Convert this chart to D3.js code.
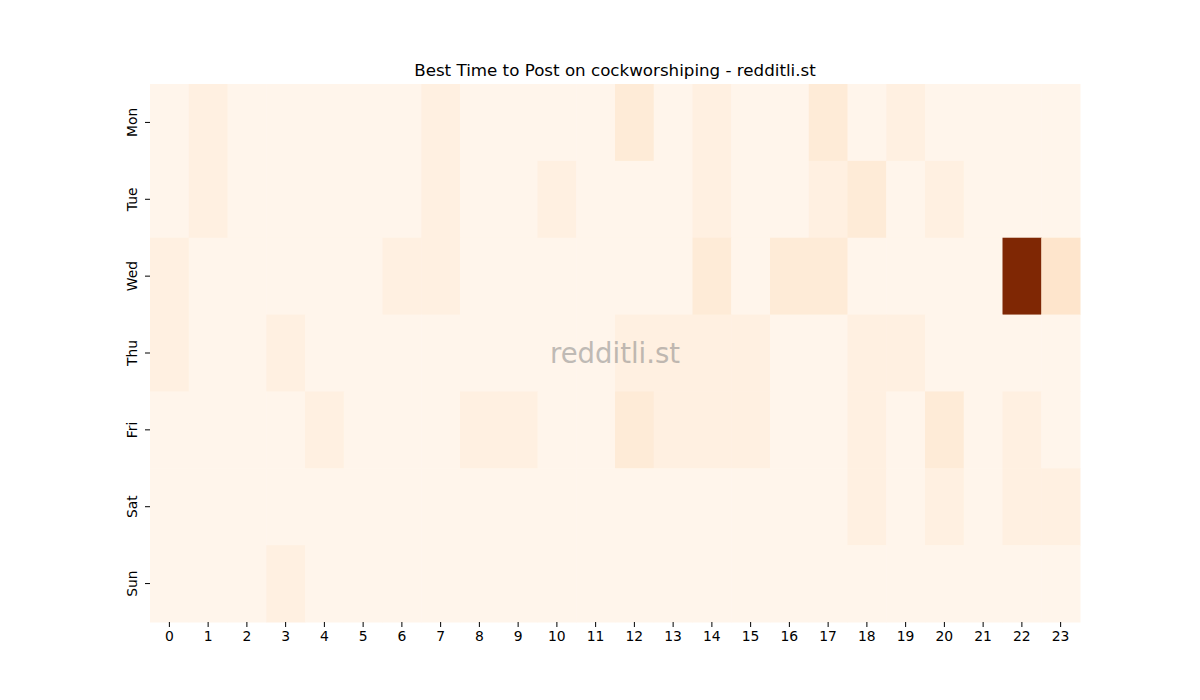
<!DOCTYPE html>
<html>
<head>
<meta charset="utf-8">
<script src="https://cdn.jsdelivr.net/npm/d3@7"></script>
<style>
	body { margin: 0; background: #fff; }
	svg text { font-family: "DejaVu Sans", sans-serif; fill: #000; }
</style>
</head>
<body>
<div id="chart"></div>
<script>
var days = ['Mon', 'Tue', 'Wed', 'Thu', 'Fri', 'Sat', 'Sun'];
var hours = d3.range(24).map(String);

// posts per day/hour
var mon = [0,1,0,0,0,0,0,1,0,0,0,0,2,0,1,0,0,2,0,1,0,0,0,0];
var tue = [0,1,0,0,0,0,0,1,0,0,1,0,0,0,1,0,0,1,2,0,1,0,0,0];
var wed = [1,0,0,0,0,0,1,1,0,0,0,0,0,0,2,0,2,2,0,0,0,0,24,3];
var thu = [1,0,0,1,0,0,0,0,0,0,0,0,1,1,1,1,0,0,1,1,0,0,0,0];
var fri = [0,0,0,0,1,0,0,0,1,1,0,0,2,1,1,1,0,0,1,0,2,0,1,0];
var sat = [0,0,0,0,0,0,0,0,0,0,0,0,0,0,0,0,0,0,1,0,1,0,1,1];
var sun = [0,0,0,1,0,0,0,0,0,0,0,0,0,0,0,0,0,0,0,0,0,0,0,0];
var rows = [mon, tue, wed, thu, fri, sat, sun];

(function() {
	var width = 1200,
		height = 700,
		left = 150,
		right = 1080,
		top = 84,
		bottom = 622;

	var cells = [];
	rows.forEach(function(r, i) {
		r.forEach(function(v, j) {
			cells.push({day: days[i], hour: hours[j], value: v});
		});
	});

	var x = d3.scaleBand().domain(hours).range([left, right]);
	var y = d3.scaleBand().domain(days).range([top, bottom]);
	var color = d3.scaleSequential(d3.interpolateOranges)
		.domain([0, d3.max(cells, function(d) { return d.value; })]);

	var svg = d3.select('#chart')
		.append('svg')
		.attr('width', width)
		.attr('height', height);

	svg.append('g')
		.selectAll('rect')
		.data(cells)
		.enter()
		.append('rect')
		.attr('x', function(d) { return x(d.hour); })
		.attr('y', function(d) { return y(d.day); })
		.attr('width', x.bandwidth() + 0.5)
		.attr('height', y.bandwidth() + 0.5)
		.attr('fill', function(d) { return color(d.value); });

	var xAxis = svg.append('g')
		.attr('transform', 'translate(0,' + bottom + ')')
		.call(d3.axisBottom(x).tickSize(5).tickPadding(4));

	var yAxis = svg.append('g')
		.attr('transform', 'translate(' + left + ',0)')
		.call(d3.axisLeft(y).tickSize(5).tickPadding(4));

	[xAxis, yAxis].forEach(function(a) {
		a.select('.domain').remove();
		a.selectAll('line').attr('stroke', '#000').attr('stroke-width', 1);
		a.selectAll('text').style('font-size', '13.9px').style('font-family', '"DejaVu Sans", sans-serif');
	});

	yAxis.selectAll('text')
		.attr('x', null)
		.attr('dy', null)
		.attr('text-anchor', 'middle')
		.attr('transform', 'translate(-13,0) rotate(-90)');

	svg.append('text')
		.attr('x', (left + right) / 2)
		.attr('y', 76)
		.attr('text-anchor', 'middle')
		.style('font-size', '16.7px')
		.text('Best Time to Post on cockworshiping - redditli.st');

	svg.append('text')
		.attr('x', (left + right) / 2)
		.attr('y', (top + bottom) / 2)
		.attr('dy', '0.35em')
		.attr('text-anchor', 'middle')
		.style('font-size', '27.5px')
		.style('fill', 'gray')
		.style('opacity', 0.5)
		.text('redditli.st');
})();
</script>
</body>
</html>
